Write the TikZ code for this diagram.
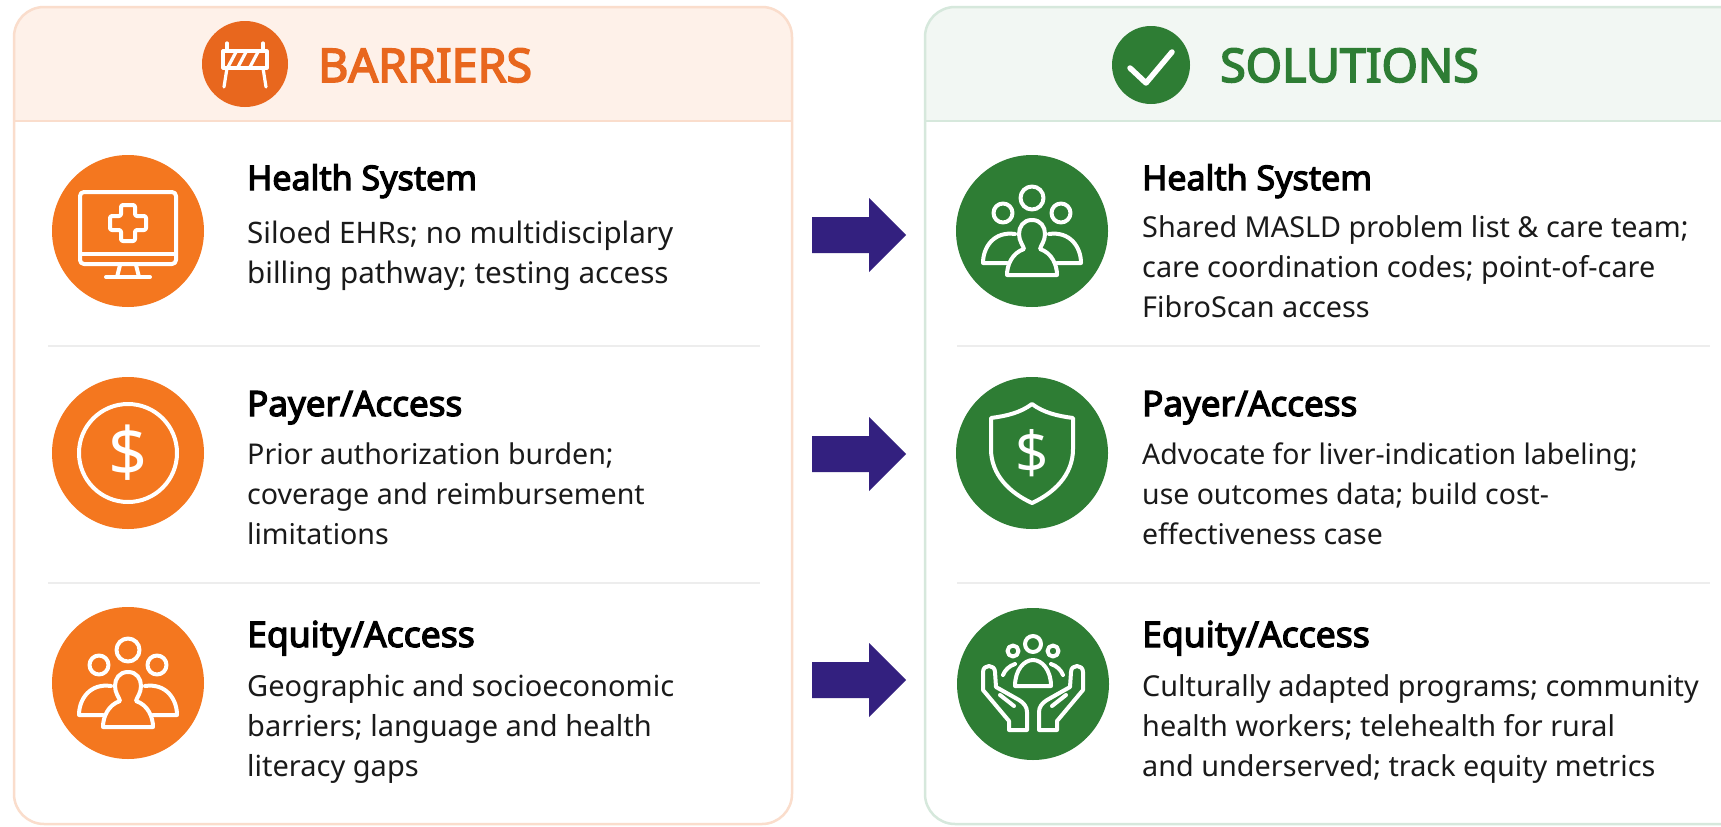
\documentclass[tikz,border=0pt]{standalone}
\usepackage{fontspec}
\setmainfont{Noto Sans}[BoldFont={Noto Sans},BoldFeatures={FakeBold=3.5}]
\definecolor{org}{HTML}{F4771F}
\definecolor{orgd}{HTML}{E8671E}
\definecolor{orgl}{HTML}{FEF1E9}
\definecolor{orgb}{HTML}{FADDCC}
\definecolor{grn}{HTML}{2E7D34}
\definecolor{grnl}{HTML}{F2F7F3}
\definecolor{grnb}{HTML}{D6E8DC}
\definecolor{navy}{HTML}{33207F}
\definecolor{ink}{HTML}{1A1A1A}
\definecolor{sep}{HTML}{EDEDED}
\tikzset{x=1pt,y=-1pt,
 head/.style={font=\fontsize{46.5}{46}\selectfont\bfseries,anchor=base west,inner sep=0pt},
 ttl/.style={font=\fontsize{#1}{34}\selectfont\bfseries,anchor=base west,text=black,inner sep=0pt},
 body/.style={font=\fontsize{#1}{40}\selectfont,anchor=base west,text=ink,inner sep=0pt,align=left},
 disc/.style={circle,inner sep=0pt,minimum size=#1},
 ic/.style={draw=white,line width=4pt,line cap=round,line join=round},
 flow/.style={fill=navy,draw=none},
 panel/.style={line width=2.5pt}
}
\newcommand{\people}[1]{%
\begin{scope}[shift={(#1)}]
 \draw[ic] (0,-33) circle (11.5);
 \draw[ic] (-29,-18) circle (9.5);
 \draw[ic] (29,-18) circle (9.5);
 \draw[ic] (0,-11) .. controls (-9,-11) and (-13,-4) .. (-13,3) .. controls (-13,10) and (-9,14) .. (-8,18) .. controls (-20,22) and (-25,34) .. (-25,44) -- (25,44) .. controls (25,34) and (20,22) .. (8,18) .. controls (9,14) and (13,10) .. (13,3) .. controls (13,-4) and (9,-11) .. (0,-11) -- cycle;
 \draw[ic] (-25,32) -- (-49,32) .. controls (-49,16) and (-38,0) .. (-17,3);
 \draw[ic] (25,32) -- (49,32) .. controls (49,16) and (38,0) .. (17,3);
\end{scope}}
\newcommand{\hand}{%
 \draw[ic] (-6,46) -- (-24,46) -- (-24,37) -- (-50,6) -- (-50,-12) .. controls (-50,-20) and (-38,-20) .. (-38,-12) -- (-37,3) -- (-14,16) .. controls (-9,19) and (-6,23) .. (-6,28) -- cycle;
 \draw[ic] (-33,11) -- (-19,22);
}
\begin{document}
\begin{tikzpicture}
\useasboundingbox (0,0) rectangle (1721,827);
\fill[white] (0,0) rectangle (1721,827);
% panels
\path[fill=orgl] (14,121) -- (14,37) arc[start angle=180,end angle=270,radius=30] -- (762,7) arc[start angle=270,end angle=360,radius=30] -- (792,121) -- cycle;
\draw[orgb,panel,rounded corners=30] (14,121) -- (14,7) -- (792,7) -- (792,824) -- (14,824) -- cycle;
\draw[orgb,panel] (14,121) -- (792,121);
\path[fill=grnl] (925,121) -- (925,37) arc[start angle=180,end angle=270,radius=30] -- (1723,7) -- (1723,121) -- cycle;
\draw[grnb,panel] (925,121) -- (1723,121);
\draw[grnb,panel] (1723,7) -- (955,7) arc[start angle=270,end angle=180,radius=30] -- (925,794) arc[start angle=180,end angle=90,radius=30] -- (1723,824);
% separators
\foreach \y in {346,583}{
 \draw[sep,line width=2pt] (48,\y) -- (760,\y);
 \draw[sep,line width=2pt] (957,\y) -- (1710,\y);
}
% headers
\node[disc=86pt,fill=orgd] (hb) at (245,64) {};
\node[head,text=orgd] (tb) at (318,82) {BARRIERS};
\node[disc=78pt,fill=grn] (hs) at (1151,65) {};
\node[head,text=grn] (ts) at (1220,82) {SOLUTIONS};
% barrier icon
\begin{scope}[shift={(hb.center)}]
 \draw[ic,line width=3.2pt] (-22,-13) rectangle (22,4);
 \draw[ic,line width=3.2pt] (-18,-21) -- (-18,-13) (18,-21) -- (18,-13);
 \draw[ic,line width=3.2pt] (-18,4) -- (-21,23) (18,4) -- (21,23);
 \draw[ic,line width=3.2pt] (-17,3) -- (-9,-12) (-7,3) -- (1,-12) (5,3) -- (13,-12);
\end{scope}
\draw[white,line width=5.5pt,line cap=round,line join=round] (1130,68) -- (1146,83) -- (1172,52);
% discs
\node[disc=152pt,fill=org] (b1) at (128,231) {};
\node[disc=152pt,fill=org] (b2) at (128,453) {};
\node[disc=152pt,fill=org] (b3) at (128,683) {};
\node[disc=152pt,fill=grn] (s1) at (1032,231) {};
\node[disc=152pt,fill=grn] (s2) at (1032,453) {};
\node[disc=152pt,fill=grn] (s3) at (1033,684) {};
% monitor
\begin{scope}[shift={(b1.center)}]
 \draw[ic,rounded corners=4] (-48,-39) rectangle (48,33);
 \draw[ic] (-48,23) -- (48,23);
 \draw[ic] (-8,34) -- (-11,46) (8,34) -- (11,46);
 \draw[ic] (-22,46) -- (22,46);
 \draw[ic,rounded corners=2] (-7,-26) -- (7,-26) -- (7,-15) -- (18,-15) -- (18,-1) -- (7,-1) -- (7,10) -- (-7,10) -- (-7,-1) -- (-18,-1) -- (-18,-15) -- (-7,-15) -- cycle;
\end{scope}
% dollar coin
\begin{scope}[shift={(b2.center)}]
 \draw[ic] (0,0) circle (49);
 \node[text=white,font=\fontsize{68}{68}\selectfont,inner sep=0pt] (d1) at (0,0) {\$};
\end{scope}
\people{b3.center}
\people{s1.center}
% shield
\begin{scope}[shift={(s2.center)}]
 \draw[ic] (0,-49) .. controls (-12,-40) and (-26,-37) .. (-41,-35) -- (-41,-4) .. controls (-41,22) and (-22,40) .. (0,50) .. controls (22,40) and (41,22) .. (41,-4) -- (41,-35) .. controls (26,-37) and (12,-40) .. (0,-49) -- cycle;
 \node[text=white,font=\fontsize{58}{58}\selectfont,inner sep=0pt] (d2) at (0,0) {\$};
\end{scope}
% hands
\begin{scope}[shift={(s3.center)}]
 \draw[ic] (0,-40) circle (8);
 \draw[ic] (-20,-33) circle (5.5);
 \draw[ic] (20,-33) circle (5.5);
 \draw[ic] (-18,2) .. controls (-18,-14) and (-9,-24) .. (0,-24) .. controls (9,-24) and (18,-14) .. (18,2) -- cycle;
 \draw[ic] (-30,-9) .. controls (-28,-14) and (-24,-18) .. (-18,-20);
 \draw[ic] (30,-9) .. controls (28,-14) and (24,-18) .. (18,-20);
 \hand
 \begin{scope}[xscale=-1]\hand\end{scope}
\end{scope}
% arrows
\foreach \n/\y in {a1/235,a2/454,a3/680}{
 \coordinate (\n) at (906,\y);
 \fill[flow] (\n) -- ++(-37,-37) -- ++(0,19) -- ++(-57,0) -- ++(0,36) -- ++(57,0) -- ++(0,19) -- cycle;
}
% text left
\node[ttl=34] (t1) at (247,190) {Health System};
\node[body=29.6] (x1) at (247,283) {Siloed EHRs; no multidisciplary\\billing pathway; testing access};
\node[ttl=35] (t2) at (247,416) {Payer/Access};
\node[body=28.6] (x2) at (247,544) {Prior authorization burden;\\coverage and reimbursement\\limitations};
\node[ttl=35.5] (t3) at (247,647) {Equity/Access};
\node[body=29] (x3) at (247,776) {Geographic and socioeconomic\\barriers; language and health\\literacy gaps};
% text right
\node[ttl=34] (u1) at (1142,190) {Health System};
\node[body=28.8] (y1) at (1142,317) {Shared MASLD problem list \& care team;\\care coordination codes; point-of-care\\FibroScan access};
\node[ttl=35] (u2) at (1142,416) {Payer/Access};
\node[body=28.4] (y2) at (1142,544) {Advocate for liver-indication labeling;\\use outcomes data; build cost-\\effectiveness case};
\node[ttl=35.5] (u3) at (1142,647) {Equity/Access};
\node[body=28.8] (y3) at (1142,776) {Culturally adapted programs; community\\health workers; telehealth for rural\\and underserved; track equity metrics};
\end{tikzpicture}
\end{document}
